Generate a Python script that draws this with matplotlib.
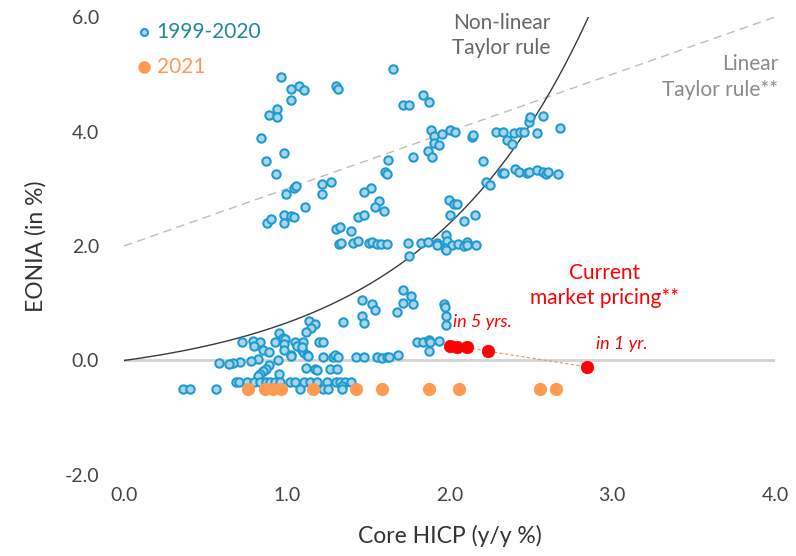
import numpy as np
import matplotlib
matplotlib.use("Agg")
import matplotlib.pyplot as plt

plt.rcParams['font.family'] = ['Lato', 'DejaVu Sans']

# 1999-2020 monthly observations (core HICP, EONIA)
hist_x = [0.965, 1.026, 1.075, 1.106, 1.026, 1.305, 1.317, 1.655, 0.942, 0.893,
          0.942, 1.716, 1.753, 1.835, 1.876, 0.842, 0.983, 0.874, 0.934, 1.624,
          1.776, 1.606, 1.614, 1.046, 1.055, 1.215, 1.274, 1.215, 0.995, 1.516,
          1.475, 1.565, 1.542, 1.597, 1.436, 1.477, 1.114, 0.877, 0.905, 0.983,
          0.983, 1.024, 1.046, 1.303, 1.325, 1.395, 1.321, 1.335, 1.405, 1.436,
          1.507, 1.526, 1.553, 1.577, 1.616, 1.745, 1.753, 1.884, 1.905, 1.956,
          2.005, 2.036, 1.903, 1.937, 1.866, 1.895, 2.136, 2.144, 2.284, 2.327,
          2.351, 2.386, 2.396, 2.435, 2.458, 2.486, 2.497, 2.536, 2.574, 2.677,
          2.206, 2.224, 2.249, 2.325, 2.333, 2.404, 2.427, 2.476, 2.488, 2.538,
          2.573, 2.593, 2.607, 2.667, 1.995, 2.026, 2.046, 2.005, 2.087, 2.157,
          1.977, 1.823, 1.866, 1.921, 1.925, 1.987, 1.974, 2.017, 2.054, 2.089,
          2.109, 2.109, 2.163, 1.977,
          1.716, 1.765, 1.778, 1.716, 1.677, 1.464, 1.526, 1.542, 1.464, 1.477,
          1.964, 1.972, 1.977, 1.977, 1.137, 1.175, 1.147, 1.116, 1.344, 0.954,
          0.975,
          0.723, 0.791, 0.836, 0.799, 0.928, 0.987, 0.983, 1.051, 1.102, 1.065,
          1.092, 1.106, 1.200, 1.225, 0.852, 0.889, 1.024, 1.122, 1.225, 1.286,
          1.297, 1.317, 0.985, 1.026, 1.092, 1.133, 1.798, 1.839, 1.876, 1.880,
          1.937, 1.876, 1.426, 1.477, 1.553, 1.587, 1.614, 1.630, 1.686, 0.826,
          0.779, 0.713, 0.668, 0.645, 0.586, 0.944, 0.893, 0.872, 0.856, 0.836,
          0.821, 0.954, 1.116, 1.172, 1.184, 1.266, 1.307, 0.686, 0.707, 0.758,
          0.801, 0.836, 0.871, 0.897, 0.928, 0.958, 1.020, 1.051, 1.106, 1.143,
          1.184, 1.245, 1.301, 1.327, 1.358, 1.393, 1.338, 0.364, 0.406, 0.565,
          1.081, 1.225, 1.256, 1.338]
hist_y = [4.96, 4.74, 4.80, 4.72, 4.55, 4.80, 4.75, 5.09, 4.39, 4.28,
          4.26, 4.47, 4.47, 4.64, 4.51, 3.89, 3.62, 3.48, 3.25, 3.50,
          3.55, 3.30, 3.25, 3.02, 3.05, 3.09, 3.11, 2.90, 2.91, 3.02,
          2.94, 2.79, 2.68, 2.61, 2.50, 2.55, 2.69, 2.41, 2.48, 2.55,
          2.41, 2.53, 2.50, 2.30, 2.33, 2.26, 2.04, 2.05, 2.05, 2.08,
          2.05, 2.07, 2.04, 2.04, 2.04, 2.05, 1.82, 4.03, 3.93, 3.96,
          4.02, 4.00, 3.80, 3.76, 3.66, 3.55, 3.91, 3.94, 4.00, 4.00,
          3.85, 3.79, 3.97, 4.00, 4.00, 4.16, 4.25, 3.98, 4.27, 4.07,
          3.49, 3.12, 3.06, 3.28, 3.28, 3.35, 3.29, 3.27, 3.29, 3.33,
          3.29, 3.25, 3.29, 3.25, 2.80, 2.73, 2.74, 2.54, 2.44, 2.55,
          2.19, 2.05, 2.07, 2.06, 2.02, 2.08, 1.96, 2.02, 2.03, 2.00,
          2.07, 2.02, 2.01, 1.93,
          1.24, 1.12, 0.99, 1.01, 0.84, 1.05, 0.99, 0.88, 0.77, 0.65,
          0.99, 0.94, 0.78, 0.62, 0.69, 0.64, 0.57, 0.49, 0.68, 0.48,
          0.40,
          0.32, 0.34, 0.33, 0.25, 0.33, 0.37, 0.28, 0.33, 0.33, 0.25,
          0.19, 0.13, 0.33, 0.33, 0.18, 0.15, 0.09, 0.09, 0.06, 0.06,
          0.09, 0.06, 0.18, 0.08, 0.24, 0.08, 0.32, 0.32, 0.35, 0.32,
          0.34, 0.16, 0.06, 0.06, 0.06, 0.05, 0.06, 0.06, 0.09, 0.03,
          -0.01, -0.03, -0.05, -0.06, -0.05, 0.01, -0.08, -0.14, -0.19, -0.23,
          -0.27, -0.23, -0.13, -0.14, -0.16, -0.14, -0.14, -0.37, -0.37, -0.37,
          -0.37, -0.37, -0.37, -0.37, -0.37, -0.37, -0.37, -0.37, -0.37, -0.37,
          -0.37, -0.37, -0.37, -0.37, -0.37, -0.37, -0.45, -0.49, -0.49, -0.49,
          -0.49, -0.49, -0.49, -0.49]

# 2021 observations
y2021_x = [0.764, 0.866, 0.913, 0.963, 1.163, 1.424, 1.587, 1.876, 2.058, 2.556, 2.654]
y2021_y = [-0.49] * 11

# current market pricing (in 5 yrs ... in 1 yr)
mkt_x = [2.003, 2.048, 2.106, 2.238, 2.843]
mkt_y = [0.25, 0.23, 0.23, 0.16, -0.11]

# Taylor rules
lin_intercept, lin_slope = 2.0, 1.0
nl_a, nl_b = 0.402, 0.97

fig = plt.figure(figsize=(7.96, 5.56), dpi=100)
ax = fig.add_axes([0.1558, 0.1457, 0.8178, 0.8237])

ax.axhline(0, color='#d3d3d3', lw=2, zorder=1)

xl = np.linspace(0, 4, 50)
ax.plot(xl, lin_intercept + lin_slope * xl, color='#bdbdbd', lw=1, dashes=(6, 4), zorder=1)

xn = np.linspace(0, np.log(6 / nl_a + 1) / nl_b, 200)
ax.plot(xn, nl_a * (np.exp(nl_b * xn) - 1), color='#3a3a3a', lw=1, zorder=2)

ax.plot(hist_x, hist_y, 'o', ms=6, mfc='#a9d6e8', mec='#1d9ad2', mew=1.5, zorder=3)
ax.plot(y2021_x, y2021_y, 'o', ms=9.5, mfc='#ff9a52', mec='none', zorder=4)
ax.plot(mkt_x, mkt_y, color='#d99a70', lw=0.8, dashes=(3, 2), zorder=4)
ax.plot(mkt_x, mkt_y, 'o', ms=9, mfc='#ff0000', mec='#ff0000', mew=0.5, zorder=5)

# legend drawn as text + markers
ax.plot([0.12], [5.74], 'o', ms=5, mfc='#a9d6e8', mec='#1d9ad2', mew=1.5, clip_on=False)
ax.text(0.2, 5.74, '1999-2020', color='#1e8a98', fontsize=15, va='center')
ax.plot([0.12], [5.13], 'o', ms=9, mfc='#ff9a52', mec='none', clip_on=False)
ax.text(0.2, 5.13, '2021', color='#ff9a52', fontsize=15, va='center')

ax.text(2.32, 5.68, 'Non-linear\nTaylor rule', color='#666666', fontsize=15,
        ha='center', va='center', linespacing=1.35)
ax.text(4.02, 4.95, 'Linear\nTaylor rule**', color='#8a8a8a', fontsize=15,
        ha='right', va='center', linespacing=1.35)
ax.text(2.955, 1.31, 'Current\nmarket pricing**', color='#ff0000', fontsize=15,
        ha='center', va='center', linespacing=1.35)
ax.text(2.02, 0.68, 'in 5 yrs.', color='#ff0000', fontsize=13, style='italic',
        ha='left', va='center')
ax.text(2.9, 0.29, 'in 1 yr.', color='#ff0000', fontsize=13, style='italic',
        ha='left', va='center')

ax.set_xlim(0, 4)
ax.set_ylim(-2, 6)
ax.set_xticks([0, 1, 2, 3, 4])
ax.set_yticks([-2, 0, 2, 4, 6])
ax.set_xticklabels(['%.1f' % v for v in [0, 1, 2, 3, 4]])
ax.set_yticklabels(['%.1f' % v for v in [-2, 0, 2, 4, 6]])
ax.tick_params(length=0, labelsize=14, labelcolor='#444444')
ax.tick_params(axis='x', pad=9)
ax.tick_params(axis='y', pad=18)
for s in ax.spines.values():
    s.set_visible(False)

ax.set_xlabel('Core HICP (y/y %)', fontsize=16.5, color='#333333', labelpad=15)
ax.set_ylabel('EONIA (in %)', fontsize=16.5, color='#333333', labelpad=13)

fig.savefig('out.png', dpi=100)
